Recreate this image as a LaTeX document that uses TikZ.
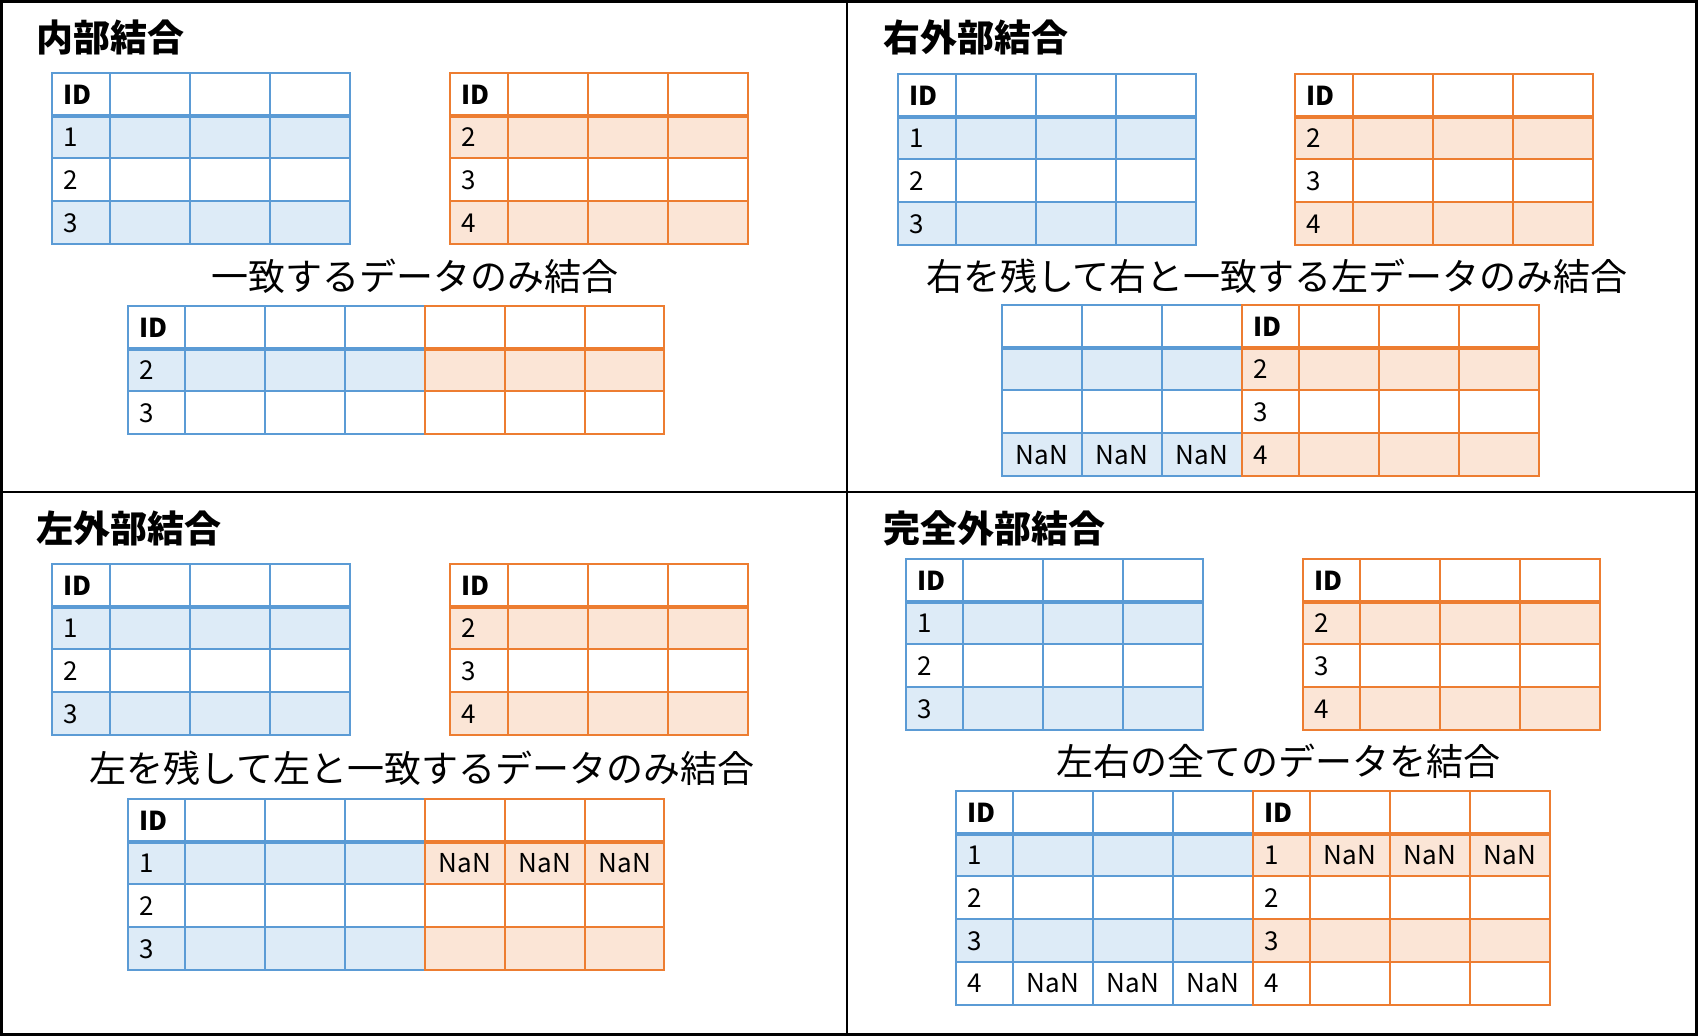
\documentclass[tikz,border=0pt]{standalone}
\usepackage{fontspec}
\setmainfont{Noto Sans CJK JP}
\definecolor{tblue}{HTML}{5B9BD5}
\definecolor{tbluefill}{HTML}{DDEBF7}
\definecolor{torange}{HTML}{ED7D31}
\definecolor{torangefill}{HTML}{FBE5D6}
\def\RH{42.7}
% #1 colour, #2 x0, #3 y0, #4 width, #5 inner column positions, #6 data rows, #7 shaded rows
\newcommand{\tpart}[7]{%
\begin{scope}[shift={(#2,#3)}]
 \foreach \r in {#7} {\fill[#1fill] (0,{\r*\RH}) rectangle (#4,{(\r+1)*\RH});}
 \foreach \c in {#5} {\draw[grid,#1] (\c,0) -- (\c,{(#6+1)*\RH});}
 \foreach \k in {2,...,#6} {\draw[grid,#1] (0,{\k*\RH}) -- (#4,{\k*\RH});}
 \draw[headline,#1] (0,\RH) -- (#4,\RH);
 \draw[grid,#1] (0,0) rectangle (#4,{(#6+1)*\RH});
\end{scope}}
% ID column texts: #1 prefix, #2 x, #3 y, #4-#6 values
\newcommand{\idcol}[6]{%
 \node[hdr] (#1id) at ({#2+11},{#3+31}) {ID};
 \node[cell] (#1a) at ({#2+11},{#3+31+\RH}) {#4};
 \node[cell] (#1b) at ({#2+11},{#3+31+2*\RH}) {#5};
 \node[cell] (#1c) at ({#2+11},{#3+31+3*\RH}) {#6};}
\begin{document}
\begin{tikzpicture}[x=1pt,y=-1pt,
  grid/.style={line width=2pt},
  headline/.style={line width=3.6pt},
  frame/.style={line width=2.6pt,black},
  cell/.style={anchor=base west,inner sep=0pt,font=\fontsize{26}{30}\selectfont},
  hdr/.style={cell,font=\fontsize{26}{30}\selectfont\bfseries},
  nan/.style={anchor=base,inner sep=0pt,font=\fontsize{26}{30}\selectfont},
  title/.style={anchor=base west,inner sep=0pt,font=\fontsize{37}{44}\selectfont\bfseries},
  caption/.style={anchor=base,inner sep=0pt,font=\fontsize{37}{44}\selectfont}]
\useasboundingbox (0,0) rectangle (1698,1036);
\fill[white] (0,0) rectangle (1698,1036);
% frame
\draw[frame] (1.5,1.5) rectangle (1696.5,1034.5);
\draw[frame] (847,1.5) -- (847,1034.5);
\draw[frame] (1.5,492) -- (1696.5,492);

% ===== inner join =====
\node[title] (t1) at (36,51) {内部結合};
\tpart{tblue}{52}{73}{298}{58,138,218}{3}{1,3}
\idcol{a1}{52}{73}{1}{2}{3}
\tpart{torange}{450}{73}{298}{58,138,218}{3}{1,3}
\idcol{a2}{450}{73}{2}{3}{4}
\node[caption] (c1) at (415,290) {一致するデータのみ結合};
\tpart{tblue}{128}{306}{297}{57,137,217}{2}{1}
\tpart{torange}{425}{306}{239}{80,160}{2}{1}
\node[hdr] (a3id) at (139,337) {ID};
\node[cell] (a3a) at (139,{337+\RH}) {2};
\node[cell] (a3b) at (139,{337+2*\RH}) {3};

% ===== right outer join =====
\node[title] (t2) at (883,51) {右外部結合};
\tpart{tblue}{898}{74}{298}{58,138,218}{3}{1,3}
\idcol{b1}{898}{74}{1}{2}{3}
\tpart{torange}{1295}{74}{298}{58,138,218}{3}{1,3}
\idcol{b2}{1295}{74}{2}{3}{4}
\node[caption] (c2) at (1277,290) {右を残して右と一致する左データのみ結合};
\tpart{tblue}{1002}{305}{240}{80,160}{3}{1,3}
\tpart{torange}{1242}{305}{297}{57,137,217}{3}{1,3}
\idcol{b3}{1242}{305}{2}{3}{4}
\node[nan] (b3n1) at (1042,{336+3*\RH}) {NaN};
\node[nan] (b3n2) at (1122,{336+3*\RH}) {NaN};
\node[nan] (b3n3) at (1202,{336+3*\RH}) {NaN};

% ===== left outer join =====
\node[title] (t3) at (36,542) {左外部結合};
\tpart{tblue}{52}{564}{298}{58,138,218}{3}{1,3}
\idcol{c1}{52}{564}{1}{2}{3}
\tpart{torange}{450}{564}{298}{58,138,218}{3}{1,3}
\idcol{c2}{450}{564}{2}{3}{4}
\node[caption] (c3) at (422,782) {左を残して左と一致するデータのみ結合};
\tpart{tblue}{128}{799}{297}{57,137,217}{3}{1,3}
\tpart{torange}{425}{799}{239}{80,160}{3}{1,3}
\idcol{c3}{128}{799}{1}{2}{3}
\node[nan] (c3n1) at (465,{830+\RH}) {NaN};
\node[nan] (c3n2) at (545,{830+\RH}) {NaN};
\node[nan] (c3n3) at (625,{830+\RH}) {NaN};

% ===== full outer join =====
\node[title] (t4) at (883,542) {完全外部結合};
\tpart{tblue}{906}{559}{297}{57,137,217}{3}{1,3}
\idcol{d1}{906}{559}{1}{2}{3}
\tpart{torange}{1303}{559}{297}{57,137,217}{3}{1,3}
\idcol{d2}{1303}{559}{2}{3}{4}
\node[caption] (c4) at (1278,775) {左右の全てのデータを結合};
\tpart{tblue}{956}{791}{297}{57,137,217}{4}{1,3}
\tpart{torange}{1253}{791}{297}{57,137,217}{4}{1,3}
\idcol{d3}{956}{791}{1}{2}{3}
\node[cell] (d3d) at (967,{822+4*\RH}) {4};
\idcol{d4}{1253}{791}{1}{2}{3}
\node[cell] (d4d) at (1264,{822+4*\RH}) {4};
\node[nan] (d3n1) at (1053,{822+4*\RH}) {NaN};
\node[nan] (d3n2) at (1133,{822+4*\RH}) {NaN};
\node[nan] (d3n3) at (1213,{822+4*\RH}) {NaN};
\node[nan] (d4n1) at (1350,{822+\RH}) {NaN};
\node[nan] (d4n2) at (1430,{822+\RH}) {NaN};
\node[nan] (d4n3) at (1510,{822+\RH}) {NaN};
\end{tikzpicture}
\end{document}
